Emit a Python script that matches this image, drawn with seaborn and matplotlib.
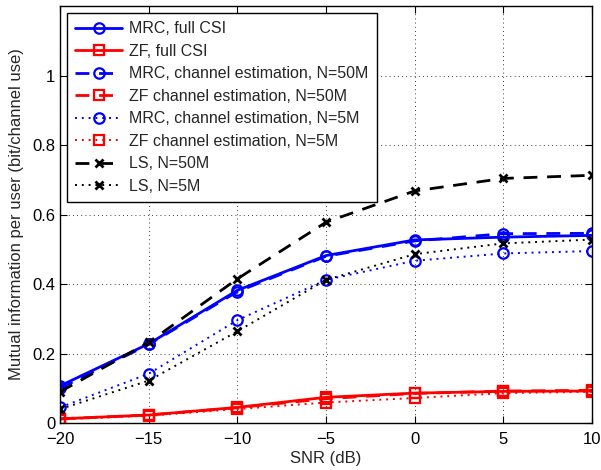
import numpy as np
import pandas as pd
import matplotlib
matplotlib.use("Agg")
import matplotlib.pyplot as plt
import seaborn as sns

# Data
snr = [-20, -15, -10, -5, 0, 5, 10]

mrc_full = [0.107, 0.228, 0.382, 0.482, 0.527, 0.535, 0.540]
zf_full  = [0.012, 0.023, 0.045, 0.074, 0.086, 0.091, 0.092]
mrc_ce50 = [0.100, 0.226, 0.378, 0.480, 0.524, 0.545, 0.546]
zf_ce50  = [0.012, 0.023, 0.044, 0.070, 0.085, 0.092, 0.094]
mrc_ce5  = [0.045, 0.142, 0.296, 0.412, 0.467, 0.488, 0.495]
zf_ce5   = [0.010, 0.021, 0.040, 0.059, 0.072, 0.086, 0.090]
ls_50    = [0.090, 0.232, 0.415, 0.578, 0.668, 0.704, 0.713]
ls_5     = [0.040, 0.122, 0.264, 0.412, 0.486, 0.517, 0.528]

labels = [
    "MRC, full CSI",
    "ZF, full CSI",
    "MRC, channel estimation, N=50M",
    "ZF channel estimation, N=50M",
    "MRC, channel estimation, N=5M",
    "ZF channel estimation, N=5M",
    "LS, N=50M",
    "LS, N=5M",
]
series = [mrc_full, zf_full, mrc_ce50, zf_ce50, mrc_ce5, zf_ce5, ls_50, ls_5]

# style per series: (color, linestyle, marker, linewidth)
styles = [
    ("#0000ff", "-",  "o", 2.0),
    ("#ff0000", "-",  "s", 2.0),
    ("#0000ff", (0, (5, 3.5)), "o", 2.0),
    ("#ff0000", (0, (5, 3.5)), "s", 2.0),
    ("#0000ff", (0, (1, 2.5)), "o", 1.4),
    ("#ff0000", (0, (1, 2.5)), "s", 1.4),
    ("#000000", (0, (5, 3.5)), "x", 2.0),
    ("#000000", (0, (1, 2.5)), "x", 1.4),
]

sns.set_theme(style="ticks")
plt.rcParams["font.family"] = ["Liberation Sans", "DejaVu Sans"]
plt.rcParams["axes.unicode_minus"] = True

fig = plt.figure(figsize=(6.01, 4.70), dpi=100)
ax = fig.add_axes([0.100, 0.100, 0.885, 0.887])

for vals, lab, (col, ls, mk, lw) in zip(series, labels, styles):
    sns.lineplot(
        x=snr, y=vals, ax=ax, label=lab,
        color=col, linestyle=ls, linewidth=lw,
        marker=mk, markersize=7.5 if mk != "x" else 6,
        markerfacecolor="none", markeredgecolor=col,
        markeredgewidth=1.6 if mk != "x" else 2.0,
        legend=True,
    )

ax.set_xlim(-20, 10)
ax.set_ylim(0, 1.2)
ax.set_xticks(snr)
ax.set_yticks([0, 0.2, 0.4, 0.6, 0.8, 1.0])
ax.set_yticklabels(["0", "0.2", "0.4", "0.6", "0.8", "1"])

ax.grid(True, color="black", linestyle=(0, (1, 4)), linewidth=0.6)
ax.tick_params(direction="in", top=True, right=True, length=5, width=0.8,
               labelsize=12, colors="black")
ax.tick_params(axis="x", pad=6.5)
ax.tick_params(axis="y", pad=3.5)
for sp in ax.spines.values():
    sp.set_color("black")
    sp.set_linewidth(1.0)

ax.set_xlabel("SNR (dB)", fontsize=12, labelpad=3)
ax.set_ylabel("Mutual information per user (bit/channel use)", fontsize=12, labelpad=6)

leg = ax.legend(loc="upper left", fontsize=11.5, frameon=True, fancybox=False,
                framealpha=1, edgecolor="black", handlelength=2.95,
                handletextpad=0.43, labelspacing=0.47, borderpad=0.5,
                borderaxespad=0.45)
leg.get_frame().set_linewidth(1.0)

fig.savefig("out.png", dpi=100)
plt.close(fig)
